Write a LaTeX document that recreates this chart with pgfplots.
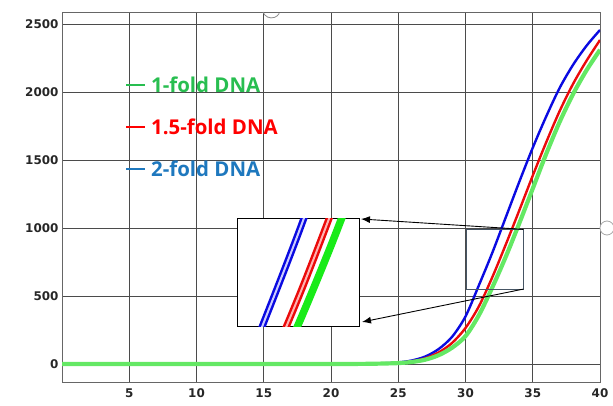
\documentclass[border=0pt]{standalone}
\usepackage{fontspec}
\setmainfont{Open Sans}
\newfontfamily\tickfont{DejaVu Sans}
\usepackage{pgfplots}
\usepackage{pgfplotstable}
\pgfplotsset{compat=1.18}
\usetikzlibrary{arrows.meta}

\definecolor{cblue}{RGB}{10,10,225}
\definecolor{cred}{RGB}{235,10,10}
\definecolor{cgreen}{RGB}{100,232,100}
\definecolor{igreen}{RGB}{25,235,25}
\definecolor{lgreen}{RGB}{40,190,80}
\definecolor{lblue}{RGB}{30,120,190}
\definecolor{gridc}{RGB}{75,75,75}
\definecolor{boxc}{RGB}{70,85,100}

% amplification curves
\pgfplotstableread{
x   blue  red   green
0   0     0     0
20  0     0     0
22  1     1     1
23  3     2     2
24  6     5     4
25  12    9     7
26  26    20    15
27  55    42    32
28  110   85    65
29  200   155   120
30  350   265   205
31  580   425   360
32  820   640   565
33  1080  880   790
34  1340  1130  1035
35  1590  1385  1290
36  1820  1630  1545
37  2030  1860  1780
38  2200  2060  1985
39  2340  2230  2160
40  2456  2382  2310
}\curves

\begin{document}
\begin{tikzpicture}
\useasboundingbox (0,0) rectangle (613bp,406bp);

\begin{axis}[
    name=main,
    at={(62bp,24bp)}, anchor=south west,
    scale only axis,
    width=538bp, height=370bp,
    xmin=0, xmax=40,
    ymin=-132, ymax=2588,
    xtick={5,10,...,40},
    ytick={0,500,...,2500},
    grid=major,
    major grid style={gridc, line width=0.7pt},
    axis line style={black!60, line width=0.8pt},
    major tick length=0pt,
    /pgf/number format/assume math mode=true,
    /pgf/number format/1000 sep={},
    tick label style={font=\tickfont\bfseries\fontsize{12}{12}\selectfont, text=black!85},
    xticklabel style={yshift=-3bp},
  ]
  \addplot[cblue, line width=2.4pt, smooth] table[x=x, y=blue] {\curves};
  \addplot[cred, line width=2.4pt, smooth] table[x=x, y=red] {\curves};
  \addplot[cgreen, line width=4.2pt, smooth] table[x=x, y=green] {\curves};

  \draw[boxc, line width=0.8pt] (axis cs:30.1,549) rectangle (axis cs:34.3,990);
  \coordinate (srcA) at (axis cs:34.3,990);
  \coordinate (srcB) at (axis cs:34.3,551);
\end{axis}

% zoomed view
\begin{axis}[
    name=inset,
    at={(237bp,79bp)}, anchor=south west,
    scale only axis,
    width=122bp, height=108bp,
    xmin=30.12, xmax=33.78,
    ymin=549, ymax=850,
    ticks=none,
    axis background/.style={fill=white},
    axis line style={black, line width=1pt},
  ]
  \addplot[cblue, line width=7pt, smooth] table[x=x, y=blue] {\curves};
  \addplot[blue!20, line width=2pt, smooth] table[x=x, y=blue] {\curves};
  \addplot[cred, line width=7pt, smooth] table[x=x, y=red] {\curves};
  \addplot[red!30, line width=2pt, smooth] table[x=x, y=red] {\curves};
  \addplot[igreen, line width=7.5pt, smooth] table[x=x, y=green] {\curves};
\end{axis}

\draw[-{Latex[length=9bp,width=7bp]}, line width=0.9pt] (srcA) -- ([xshift=2bp]inset.north east);
\draw[-{Latex[length=9bp,width=7bp]}, line width=0.9pt] (srcB) -- ([xshift=3bp,yshift=5bp]inset.south east);

% legend
\draw[lgreen, line width=2.6bp] (126bp,321bp) -- (145bp,321bp);
\node[anchor=west, inner sep=0pt, text=lgreen, font=\bfseries\fontsize{20.5}{20.5}\selectfont] at (151bp,321bp) {1-fold DNA};
\draw[red, line width=2.6bp] (126bp,279bp) -- (145bp,279bp);
\node[anchor=west, inner sep=0pt, text=red, font=\bfseries\fontsize{20.5}{20.5}\selectfont] at (151bp,279bp) {1.5-fold DNA};
\draw[lblue, line width=2.6bp] (126bp,237bp) -- (145bp,237bp);
\node[anchor=west, inner sep=0pt, text=lblue, font=\bfseries\fontsize{20.5}{20.5}\selectfont] at (151bp,237bp) {2-fold DNA};

% window handles at the edges of the screenshot
\draw[black!35, fill=white, line width=0.8pt] (607bp,178bp) circle (7bp);
\draw[black!45, line width=0.8pt] (263bp,394bp) arc[start angle=200, end angle=330, radius=9bp];
\end{tikzpicture}
\end{document}
